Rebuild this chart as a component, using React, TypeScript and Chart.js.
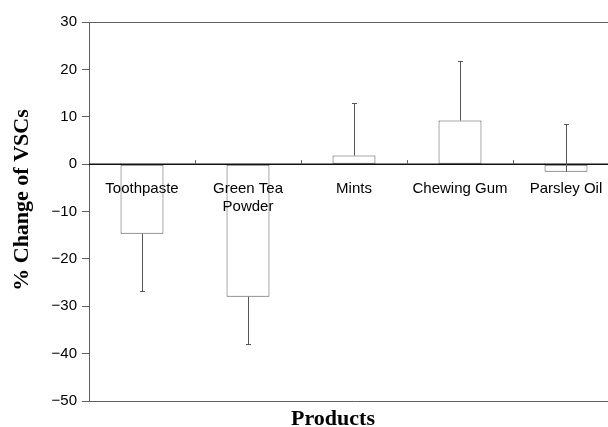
import React, { useEffect, useRef } from "react";
import { Chart, registerables } from "chart.js";

Chart.register(...registerables);

const categories: string[][] = [["Toothpaste"], ["Green Tea", "Powder"], ["Mints"], ["Chewing Gum"], ["Parsley Oil"]];
const meanChange: number[] = [-14.7, -28.0, 1.8, 9.2, -1.6];
const whiskerEnd: number[] = [-26.8, -38.0, 12.9, 21.7, 8.5];
const yTicks: number[] = [-50, -40, -30, -20, -10, 0, 10, 20, 30];

const AXIS = "#606060";

const decorPlugin = {
  id: "decor",
  afterDatasetsDraw(chart: any) {
    const { ctx, chartArea, scales } = chart;
    const y = scales.y;
    const x = scales.x;
    const zeroY = y.getPixelForValue(0);
    ctx.save();
    // top border
    ctx.strokeStyle = AXIS;
    ctx.lineWidth = 1;
    ctx.beginPath();
    ctx.moveTo(chartArea.left, Math.round(chartArea.top) + 0.5);
    ctx.lineTo(chartArea.right, Math.round(chartArea.top) + 0.5);
    ctx.stroke();
    // zero line
    ctx.strokeStyle = "#111";
    ctx.lineWidth = 1.5;
    ctx.beginPath();
    ctx.moveTo(chartArea.left, zeroY);
    ctx.lineTo(chartArea.right, zeroY);
    ctx.stroke();
    // category boundary ticks
    ctx.lineWidth = 1;
    ctx.strokeStyle = AXIS;
    const n = categories.length;
    for (let i = 1; i < n; i++) {
      const px = (x.getPixelForValue(i - 1) + x.getPixelForValue(i)) / 2;
      ctx.beginPath();
      ctx.moveTo(Math.round(px) + 0.5, zeroY);
      ctx.lineTo(Math.round(px) + 0.5, zeroY - 4);
      ctx.stroke();
    }
    // error bars
    const meta = chart.getDatasetMeta(0);
    ctx.strokeStyle = "#555";
    ctx.lineWidth = 1;
    meta.data.forEach((bar: any, i: number) => {
      const v = meanChange[i];
      const bx = Math.round(bar.x) + 0.5;
      const y1 = y.getPixelForValue(v);
      const y2 = Math.round(y.getPixelForValue(whiskerEnd[i])) + 0.5;
      ctx.beginPath();
      ctx.moveTo(bx, y1);
      ctx.lineTo(bx, y2);
      ctx.moveTo(bx - 2.5, y2);
      ctx.lineTo(bx + 2.5, y2);
      ctx.stroke();
    });
    // category labels
    ctx.fillStyle = "#000";
    ctx.font = "15px 'Liberation Sans', Arial, sans-serif";
    ctx.textAlign = "center";
    ctx.textBaseline = "middle";
    categories.forEach((lines, i) => {
      const cx = x.getPixelForValue(i);
      lines.forEach((t, j) => {
        ctx.fillText(t, cx, zeroY + 25 + j * 18);
      });
    });
    // x title
    ctx.font = "bold 22px 'Liberation Serif', 'Times New Roman', serif";
    ctx.textBaseline = "alphabetic";
    ctx.fillText("Products", 333, 425);
    // y title
    ctx.translate(22, 200);
    ctx.rotate(-Math.PI / 2);
    ctx.textBaseline = "middle";
    ctx.fillText("% Change of VSCs", 0, 0);
    ctx.restore();
  },
};

export default function App() {
  const ref = useRef<HTMLCanvasElement | null>(null);
  useEffect(() => {
    if (!ref.current) return;
    const chart = new Chart(ref.current, {
      type: "bar",
      data: {
        labels: categories.map((c) => c.join(" ")),
        datasets: [
          {
            data: meanChange,
            backgroundColor: "#ffffff",
            borderColor: "#555555",
            borderWidth: 1,
            borderSkipped: false,
            categoryPercentage: 1,
            barPercentage: 0.405,
          },
        ],
      },
      options: {
        responsive: false,
        animation: false,
        layout: { padding: { top: 22, right: 1, left: 0, bottom: 0 } },
        plugins: { legend: { display: false }, tooltip: { enabled: false } },
        scales: {
          x: {
            grid: { display: false },
            border: { display: true, color: AXIS, width: 1 },
            ticks: { display: false },
            afterFit: (s: any) => {
              s.height = 26;
            },
          },
          y: {
            min: -50,
            max: 30,
            afterBuildTicks: (s: any) => {
              s.ticks = yTicks.map((v) => ({ value: v }));
            },
            grid: { drawOnChartArea: false, drawTicks: true, tickLength: 7, color: AXIS },
            border: { display: true, color: AXIS, width: 1 },
            ticks: {
              padding: 5,
              color: "#000",
              font: { family: "'Liberation Sans', Arial, sans-serif", size: 15 },
              callback: (v: any) => String(v).replace("-", "\u2212"),
            },
            afterFit: (s: any) => {
              s.width = 89;
            },
          },
        },
      },
      plugins: [decorPlugin],
    });
    return () => chart.destroy();
  }, []);
  return (
    <div style={{ position: "fixed", left: 0, top: 0, width: 608, height: 427, overflow: "hidden", background: "#fff" }}>
      <canvas ref={ref} width={620} height={427} style={{ display: "block" }} />
    </div>
  );
}
